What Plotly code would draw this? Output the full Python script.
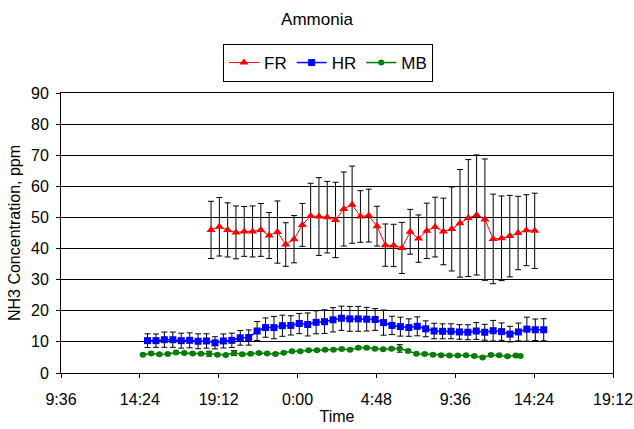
import pandas as pd
import plotly.graph_objects as go

# ---- data ----
fr_start, fr_end = "2000-01-01 18:44", "2000-01-02 14:26"
fr_mean = [46.0, 47.0, 46.0, 45.2, 45.5, 45.5, 46.0, 44.2, 45.3, 41.3,
           43.0, 47.6, 50.5, 50.3, 50.1, 49.2, 52.7, 54.1, 50.3, 50.6,
           47.2, 41.1, 41.0, 40.2, 45.4, 43.2, 45.7, 46.9, 45.5, 46.3,
           48.1, 49.8, 50.8, 49.3, 43.1, 43.3, 44.0, 45.0, 45.9, 45.7]
fr_err = [9.2, 9.4, 8.7, 8.5, 8.0, 8.2, 8.5, 7.4, 10.0, 7.0,
          7.6, 6.9, 10.5, 12.5, 11.5, 12.1, 11.9, 12.4, 8.3, 8.5,
          6.4, 6.8, 6.8, 8.2, 7.2, 7.6, 8.9, 9.6, 10.7, 13.5,
          17.3, 18.8, 19.3, 19.5, 14.4, 13.6, 13.1, 11.8, 11.4, 12.1]

hr_start, hr_end = "2000-01-01 14:52", "2000-01-02 14:59"
hr_mean = [10.4, 10.4, 10.7, 10.7, 10.4, 10.5, 10.2, 10.3, 9.7, 10.3,
           10.5, 11.3, 11.4, 13.5, 14.6, 14.6, 15.2, 15.3, 15.9, 15.6,
           16.3, 16.5, 17.1, 17.6, 17.4, 17.4, 17.3, 17.2, 16.2, 15.3,
           14.9, 14.6, 15.0, 14.2, 13.5, 13.4, 13.4, 13.2, 13.1, 13.5,
           13.1, 13.6, 13.3, 12.5, 13.2, 14.1, 13.9, 13.9]
hr_err = [2.2, 2.15, 2.45, 2.45, 2.4, 2.4, 2.4, 2.3, 1.95, 2.25,
          2.3, 2.35, 2.45, 3.05, 3.1, 3.6, 3.4, 3.1, 3.25, 3.7,
          3.7, 3.8, 3.9, 3.9, 4.0, 4.0, 3.8, 3.5, 4.05, 2.95,
          3.05, 2.8, 3.05, 2.55, 2.5, 2.4, 2.4, 2.35, 2.4, 2.7,
          2.55, 3.3, 2.8, 2.5, 2.85, 3.85, 3.45, 3.55]

mb_start, mb_end = "2000-01-01 14:35", "2000-01-02 13:17"
mb_last_time = "2000-01-02 13:34"
mb_mean = [5.9, 6.3, 6.0, 6.1, 6.6, 6.4, 6.3, 6.2, 6.2, 5.9,
           5.8, 6.4, 6.0, 6.2, 6.4, 6.3, 6.1, 6.5, 7.0, 7.0,
           7.3, 7.3, 7.5, 7.5, 7.7, 7.5, 8.1, 8.1, 7.8, 7.6,
           7.8, 7.9, 7.1, 6.2, 6.1, 5.9, 5.7, 5.6, 5.6, 5.7,
           5.5, 5.0, 5.8, 5.7, 5.4, 5.6, 5.5]
mb_err = [0.4, 0.4, 0.4, 0.4, 0.4, 0.4, 0.4, 0.4, 0.8, 0.4,
          0.4, 0.8, 0.4, 0.4, 0.4, 0.4, 0.4, 0.4, 0.4, 0.4,
          0.4, 0.4, 0.4, 0.4, 0.4, 0.4, 0.4, 0.4, 0.4, 0.4,
          0.4, 1.2, 0.4, 0.4, 0.4, 0.4, 0.4, 0.4, 0.4, 0.4,
          0.4, 0.4, 0.4, 0.4, 0.4, 0.4, 0.4]

fr_time = pd.date_range(fr_start, fr_end, periods=len(fr_mean))
hr_time = pd.date_range(hr_start, hr_end, periods=len(hr_mean))
mb_time = list(pd.date_range(mb_start, mb_end, periods=len(mb_mean) - 1)) + [pd.Timestamp(mb_last_time)]

x_range = ["2000-01-01 09:36", "2000-01-02 19:12"]
y_ticks = list(range(0, 91, 10))

FONT = "Liberation Sans, Arial, sans-serif"
W, H = 634, 429

def err(vals):
    return dict(type="data", array=vals, visible=True, color="black",
                thickness=1, width=3)

fig = go.Figure()
fig.add_trace(go.Scatter(x=fr_time, y=fr_mean, name="FR", mode="lines+markers",
                         line=dict(color="#ff0000", width=1),
                         marker=dict(symbol="triangle-up", size=8, color="#ff0000"),
                         error_y=err(fr_err)))
fig.add_trace(go.Scatter(x=hr_time, y=hr_mean, name="HR", mode="lines+markers",
                         line=dict(color="#0000ff", width=1.5),
                         marker=dict(symbol="square", size=7, color="#0000ff"),
                         error_y=err(hr_err)))
fig.add_trace(go.Scatter(x=mb_time, y=mb_mean, name="MB", mode="lines+markers",
                         line=dict(color="#008000", width=1.5),
                         marker=dict(symbol="circle", size=6, color="#008000"),
                         error_y=err(mb_err)))

fig.update_layout(
    width=W, height=H,
    margin=dict(l=61, r=21, t=93, b=56, autoexpand=False),
    paper_bgcolor="white", plot_bgcolor="white",
    font=dict(family=FONT, size=16, color="black"),
    title=dict(text="Ammonia", x=0.5, xref="container", xanchor="center",
               y=1 - 19 / H, yref="container", yanchor="middle", font=dict(size=17)),
    showlegend=True,
    legend=dict(orientation="h", x=328 / W, xanchor="center", xref="container",
                y=1 - 44 / H, yanchor="top", yref="container",
                bordercolor="black", borderwidth=1, font=dict(size=17),
                itemwidth=30, tracegroupgap=0),
    xaxis=dict(type="date", range=x_range, tick0="2000-01-01 09:36",
               dtick=4.8 * 3600 * 1000, tickformat="%-H:%M", automargin=False,
               showgrid=False, showline=True, linecolor="black", linewidth=1,
               mirror=True, ticks="outside", ticklen=4, tickcolor="black",
               ticklabelstandoff=8,
               tickfont=dict(size=16), title=dict(text="Time", font=dict(size=16), standoff=3),
               zeroline=False),
    yaxis=dict(range=[0, 90], tickvals=y_ticks, showgrid=True, gridcolor="black",
               gridwidth=1, showline=True, linecolor="black", linewidth=1,
               mirror=True, ticks="outside", ticklen=4, tickcolor="black",
               ticklabelstandoff=4, automargin=False,
               tickfont=dict(size=16),
               title=dict(text="NH3 Concentration, ppm", font=dict(size=16), standoff=6),
               zeroline=False),
)

fig.write_html("out.html",
               config={"displayModeBar": False},
               post_script="document.body.style.margin='0px';"
                           "document.body.style.overflow='hidden';")
